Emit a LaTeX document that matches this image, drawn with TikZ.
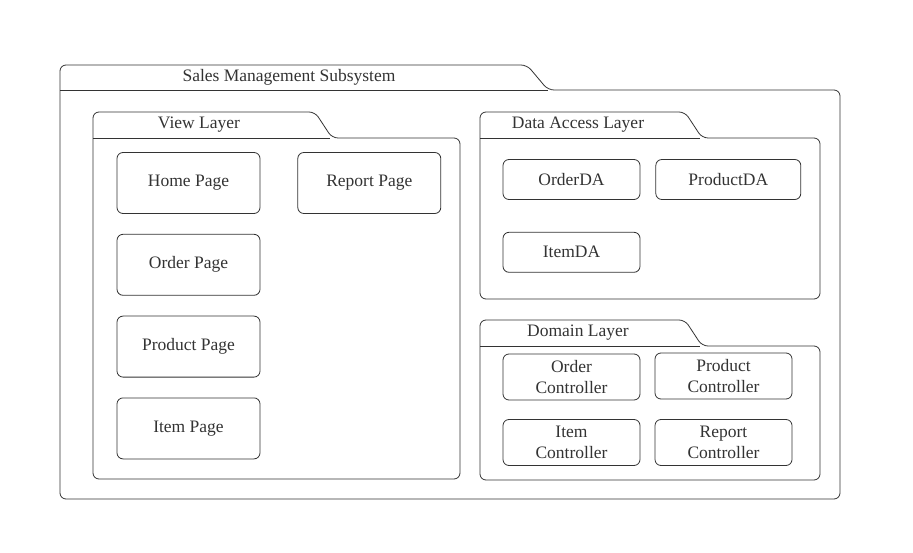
\documentclass[tikz,border=0pt]{standalone}
\usepackage{fontspec}
\setmainfont{Liberation Serif}
\usepackage{xcolor}
\usepackage{tikz}
\usetikzlibrary{positioning}
\definecolor{inkgray}{HTML}{333333}

\tikzset{
  pkgline/.style={draw=inkgray, line width=0.8pt, rounded corners=6pt},
  pkgtitle/.style={text=inkgray, font=\fontsize{17.5}{21}\selectfont, inner sep=0pt, yshift=-2pt},
  unitbox/.style={draw=inkgray, line width=0.8pt, rounded corners=6pt, text=inkgray,
    font=\fontsize{17.5}{21}\selectfont, align=center, inner sep=0pt},
}

\begin{document}
\begin{tikzpicture}[x=1pt, y=-1pt]
  \useasboundingbox (0,0) rectangle (913,553);

  % subsystem folder
  \draw[pkgline] (60,90) -- (60,65) -- (527,65) -- (548,90) -- (840,90) -- (840,499) -- (60,499) -- cycle;
  \draw[draw=inkgray, line width=0.8pt] (60,90) -- (548,90);
  \node[pkgtitle] (subsys) at (289,75) {Sales Management Subsystem};

  % view layer
  \draw[pkgline] (93,138) -- (93,112) -- (315,112) -- (332,138) -- (460,138) -- (460,479) -- (93,479) -- cycle;
  \draw[draw=inkgray, line width=0.8pt] (93,138) -- (330,138);
  \node[pkgtitle] (viewtitle) at (199,123) {View Layer};

  \node[unitbox, minimum width=143pt, minimum height=61pt] (home) at (188.5,183) {Home Page};
  \node[unitbox, minimum width=143pt, minimum height=61pt, right=37pt of home] (report) {Report Page};
  \node[unitbox, minimum width=143pt, minimum height=61pt, below=20pt of home] (order) {Order Page};
  \node[unitbox, minimum width=143pt, minimum height=61pt, below=20pt of order] (product) {Product Page};
  \node[unitbox, minimum width=143pt, minimum height=61pt, below=20pt of product] (item) {Item Page};

  % data access layer
  \draw[pkgline] (480,138) -- (480,112) -- (685,112) -- (702,138) -- (820,138) -- (820,299) -- (480,299) -- cycle;
  \draw[draw=inkgray, line width=0.8pt] (480,138) -- (700,138);
  \node[pkgtitle] (datitle) at (578,123) {Data Access Layer};

  \node[unitbox, minimum width=137pt, minimum height=40pt] (orderda) at (571.5,179.5) {OrderDA};
  \node[unitbox, minimum width=145pt, minimum height=40pt, right=15pt of orderda] (productda) {ProductDA};
  \node[unitbox, minimum width=137pt, minimum height=40pt, below=32pt of orderda] (itemda) {ItemDA};

  % domain layer
  \draw[pkgline] (480,346) -- (480,320) -- (685,320) -- (702,346) -- (820,346) -- (820,480) -- (480,480) -- cycle;
  \draw[draw=inkgray, line width=0.8pt] (480,346) -- (700,346);
  \node[pkgtitle] (domtitle) at (578,331) {Domain Layer};

  \node[unitbox, minimum width=137pt, minimum height=46pt] (orderctl) at (571.5,377) {Order\\Controller};
  \node[unitbox, minimum width=137pt, minimum height=46pt] (productctl) at (723.5,376) {Product\\Controller};
  \node[unitbox, minimum width=137pt, minimum height=46pt] (itemctl) at (571.5,442.5) {Item\\Controller};
  \node[unitbox, minimum width=137pt, minimum height=46pt] (reportctl) at (723.5,442.5) {Report\\Controller};
\end{tikzpicture}
\end{document}
